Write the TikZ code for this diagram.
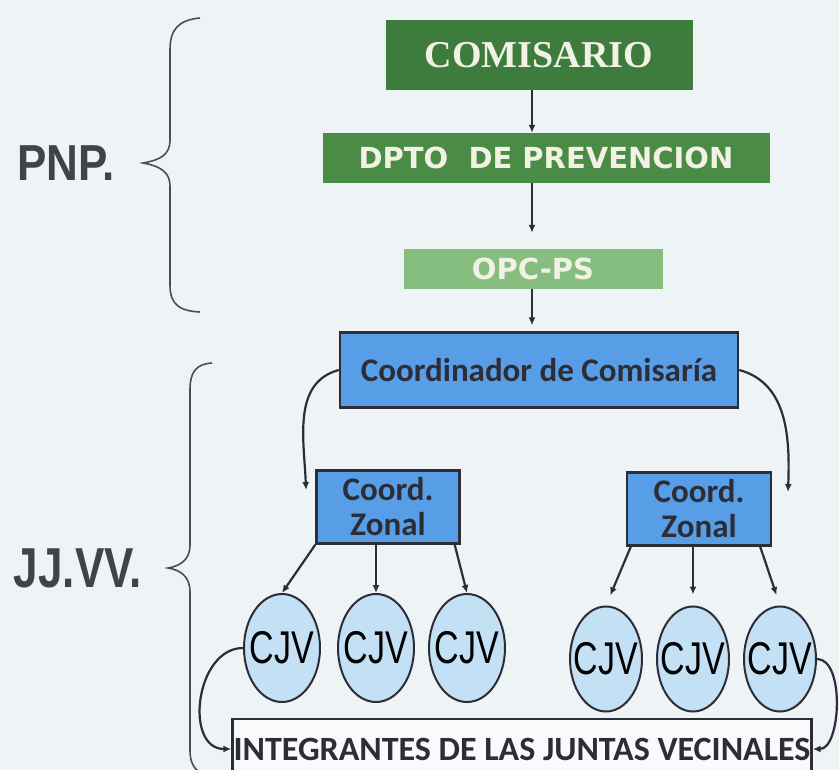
\documentclass[tikz,border=0pt]{standalone}
\usepackage{fontspec}
\setmainfont{Carlito}
\newfontfamily\arialfont{Liberation Sans}
\newfontfamily\seriffont{Liberation Serif}
\newfontfamily\anchafont{DejaVu Sans}
\usetikzlibrary{positioning,shapes.geometric,arrows.meta}

\definecolor{fondo}{RGB}{238,243,246}
\definecolor{verdeA}{RGB}{62,124,62}
\definecolor{verdeB}{RGB}{74,140,70}
\definecolor{verdeC}{RGB}{134,190,128}
\definecolor{azul}{RGB}{88,158,230}
\definecolor{celeste}{RGB}{196,224,245}
\definecolor{tinta}{RGB}{45,45,55}
\definecolor{crema}{RGB}{242,242,228}

\tikzset{
	cajaverde/.style={inner sep=0pt, text=crema},
	cajaazul/.style={draw=tinta, line width=2.4pt, fill=azul, text=tinta, inner sep=0pt, font=\bfseries\fontsize{33}{35}\selectfont},
	cjv/.style={ellipse, draw=tinta, line width=2pt, fill=celeste, inner sep=0pt, font=\arialfont\fontsize{34}{34}\selectfont},
	flecha/.style={draw=tinta, line width=2.2pt, -{Latex[length=8pt,width=7pt]}},
	llave/.style={draw=tinta!85, line width=1.6pt},
	titulo/.style={text=tinta!90, font=\arialfont\bfseries\fontsize{44}{44}\selectfont}
}

\begin{document}
\begin{tikzpicture}[x=1pt, y=-1pt]
	\clip (0,0) rectangle (839,770);
	\fill[fondo] (0,0) rectangle (839,770);

	\node[cajaverde, fill=verdeA, minimum width=307pt, minimum height=70pt, font=\seriffont\bfseries\fontsize{38}{38}\selectfont] (comisario) at (539,55){COMISARIO};
	\node[cajaverde, fill=verdeB, minimum width=447pt, minimum height=50pt, font=\anchafont\bfseries\fontsize{29}{29}\selectfont] (dpto) at (546,158){DPTO\ \ DE PREVENCION};
	\node[cajaverde, fill=verdeC, minimum width=259pt, minimum height=40pt, font=\anchafont\bfseries\fontsize{29}{29}\selectfont] (opc) at (533,269){OPC-PS};
	\coordinate (eje) at (532,0);

	\node[cajaazul, minimum width=398pt, minimum height=75pt] (coord) at (539,370){Coordinador de Comisaría};
	\node[cajaazul, minimum width=143pt, minimum height=73pt, align=center] (zonaI) at (388,507){Coord.\\Zonal};
	\node[cajaazul, minimum width=144pt, minimum height=73pt, align=center] (zonaD) at (699,509){Coord.\\Zonal};

	\node[cjv, minimum width=76pt, minimum height=108pt] (cjv1) at (282,648){\makebox[0pt]{\scalebox{1}[1.35]{CJV}}};
	\node[cjv, minimum width=76pt, minimum height=108pt] (cjv2) at (376,648){\makebox[0pt]{\scalebox{1}[1.35]{CJV}}};
	\node[cjv, minimum width=76pt, minimum height=108pt] (cjv3) at (467,648){\makebox[0pt]{\scalebox{1}[1.35]{CJV}}};
	\node[cjv, minimum width=72pt, minimum height=105pt] (cjv4) at (606,659){\makebox[0pt]{\scalebox{1}[1.35]{CJV}}};
	\node[cjv, minimum width=72pt, minimum height=105pt] (cjv5) at (693,659){\makebox[0pt]{\scalebox{1}[1.35]{CJV}}};
	\node[cjv, minimum width=72pt, minimum height=105pt] (cjv6) at (780,659){\makebox[0pt]{\scalebox{1}[1.35]{CJV}}};

	\node[draw=tinta, line width=2.4pt, fill=white!60!fondo, text=tinta, inner sep=0pt, minimum width=579pt, minimum height=60pt, font=\bfseries\fontsize{34}{34}\selectfont] (integrantes) at (522,749){INTEGRANTES DE LAS JUNTAS VECINALES};

	\node[titulo] (pnp) at (66,163){\scalebox{1}[1.15]{PNP.}};
	\node[titulo] (jjvv) at (78,568){\scalebox{1}[1.28]{JJ.VV.}};

	\draw[flecha] (comisario.south -| eje) -- (dpto.north -| eje);
	\draw[flecha, shorten >=16pt] (dpto.south -| eje) -- (opc.north -| eje);
	\draw[flecha, shorten >=6pt] (opc.south -| eje) -- (coord.north -| eje);

	\coordinate (libreI) at (306,490);
	\coordinate (libreD) at (788,492);
	\draw[flecha] (coord.west) to[out=195, in=92] (libreI);
	\draw[flecha] (coord.east) to[out=-15, in=88] (libreD);

	\draw[flecha] (zonaI.south west) -- (cjv1.north);
	\draw[flecha] (cjv2.north |- zonaI.south) -- (cjv2.north);
	\draw[flecha] ([xshift=-6pt]zonaI.south east) -- (cjv3.north);
	\draw[flecha, shorten >=11pt] ([xshift=5pt]zonaD.south west) -- (cjv4.north);
	\draw[flecha, shorten >=11pt] (cjv5.north |- zonaD.south) -- (cjv5.north);
	\draw[flecha, shorten >=11pt] ([xshift=-12pt]zonaD.south east) -- (cjv6.north);

	\draw[flecha] (cjv1.west) to[out=180, in=180, looseness=1.2] (integrantes.west);
	\draw[flecha] (cjv6.east) to[out=0, in=0, looseness=0.8] (integrantes.east);

	\draw[llave] (200,18) .. controls (178,20) and (170,30) .. (170,50) -- (170,140) .. controls (170,155) and (160,160) .. (143,163) .. controls (160,166) and (170,172) .. (170,186) -- (170,285) .. controls (170,305) and (180,311) .. (200,312);
	\draw[llave] (212,363) .. controls (196,364) and (190,372) .. (190,390) -- (190,545) .. controls (190,560) and (180,566) .. (168,568) .. controls (180,570) and (190,576) .. (190,592) -- (190,750) .. controls (190,768) and (198,775) .. (215,776);
\end{tikzpicture}
\end{document}
